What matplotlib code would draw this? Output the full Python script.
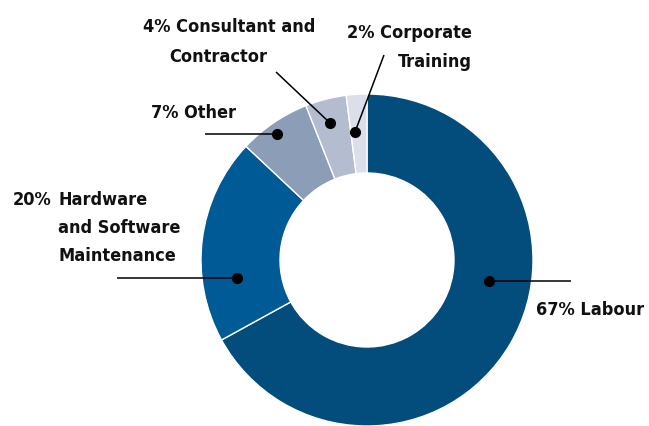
#!/usr/bin/env python3
"""Donut chart of cost breakdown."""
import matplotlib

matplotlib.use("Agg")
import matplotlib.pyplot as plt  # noqa: E402

W, H = 649, 426

categories = ["Labour", "Hardware and Software Maintenance", "Other",
              "Consultant and Contractor", "Corporate Training"]
shares = [67, 20, 7, 4, 2]
colors = ["#024D7C", "#005A96", "#8C9DB8", "#B3BDCF", "#DCDEE9"]

FONT = ["DejaVu Sans"]


def py(y):
    """Pixel row (from top) to axis y (from bottom)."""
    return H - y


fig = plt.figure(figsize=(W / 100, H / 100), dpi=100)
ax = fig.add_axes([0, 0, 1, 1])
ax.set_xlim(0, W)
ax.set_ylim(0, H)
ax.set_aspect("equal")
ax.axis("off")

outer, inner = 166, 87
ax.pie(shares, colors=colors, startangle=90, counterclock=False,
       center=(367, py(260)), radius=outer,
       wedgeprops={"width": outer - inner, "edgecolor": "white", "linewidth": 1.0})
ax.set_xlim(0, W)
ax.set_ylim(0, H)

# leader lines: (dot, line end)
leaders = [
    ((489, 281), (571, 281)),
    ((237, 278), (117, 278)),
    ((277, 134), (205, 134)),
    ((330, 123), (276, 72)),
    ((355, 132), (384, 55)),
]
for (dx, dy), (ex, ey) in leaders:
    ax.plot([dx, ex], [py(dy), py(ey)], color="black", lw=1.1, solid_capstyle="butt")
    ax.plot(dx, py(dy), "o", color="black", ms=7)

txt = dict(family=FONT, fontsize=13, fontweight="bold", fontstretch="condensed",
           color="#111111", va="baseline")

ax.text(536, py(315), f"{shares[0]}% Labour", ha="left", **txt)

ax.text(51, py(205), f"{shares[1]}%", ha="right", **txt)
ax.text(58, py(205), "Hardware", ha="left", **txt)
ax.text(58, py(233), "and Software", ha="left", **txt)
ax.text(58, py(261), "Maintenance", ha="left", **txt)

ax.text(151, py(118), f"{shares[2]}% Other", ha="left", **txt)

ax.text(229, py(32), f"{shares[3]}% Consultant and", ha="center", **txt)
ax.text(218, py(62), "Contractor", ha="center", **txt)

ax.text(472, py(38), f"{shares[4]}% Corporate", ha="right", **txt)
ax.text(472, py(67), "Training", ha="right", **txt)

fig.savefig("out.png", dpi=100)
